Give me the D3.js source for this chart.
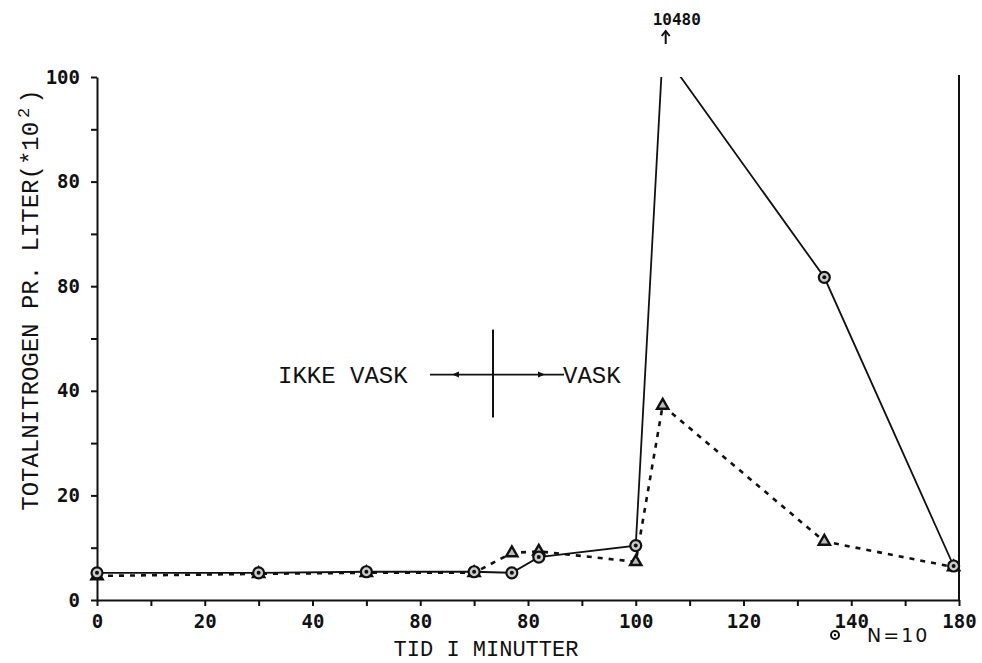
<!DOCTYPE html>
<html>
<head>
<meta charset="utf-8">
<script src="https://cdn.jsdelivr.net/npm/d3@7"></script>
<style>
  body { margin: 0; background: #fff; }
  svg { display: block; }
</style>
</head>
<body>
<script>
// sampling times (minutes)
var times = [0, 30, 50, 70, 77, 82, 100, 105, 135, 159];
// solid line, circle markers
var circleSeries = [5.2, 5.2, 5.4, 5.4, 5.2, 8.2, 10.4, 104.8, 61.7, 6.5];
// dashed line, triangle markers
var triangleSeries = [4.6, 5.0, 5.2, 5.2, 9.0, 9.3, 7.3, 37.2, 11.2, 6.3];

// tick labels as printed on the plot
var xTickValues = [0, 20, 40, 60, 80, 100, 120, 140, 160];
var xTickLabels = ["0", "20", "40", "80", "80", "100", "120", "140", "180"];
var yTickValues = [0, 20, 40, 60, 80, 100];
var yTickLabels = ["0", "20", "40", "80", "80", "100"];

var peakLabel = "10480";

var w = 982, h = 663;
// plot box (note: "top" is a reserved window prop, so use plot*)
var plotLeft = 97, plotRight = 959, plotTop = 77, plotBottom = 600;

var xScale = d3.scaleLinear().domain([0, 160]).range([plotLeft, plotRight]);
var yScale = d3.scaleLinear().domain([0, 100]).range([plotBottom, plotTop]);

var svg = d3.select("body").append("svg")
  .attr("width", w)
  .attr("height", h);

svg.append("defs").append("clipPath")
  .attr("id", "plotClip")
  .append("rect")
  .attr("x", plotLeft - 10)
  .attr("y", plotTop)
  .attr("width", plotRight - plotLeft + 20)
  .attr("height", plotBottom - plotTop + 20);

// axes
var xAxis = svg.append("g")
  .attr("transform", "translate(0," + plotBottom + ")")
  .call(d3.axisBottom(xScale)
    .tickValues(d3.range(0, 161, 10))
    .tickSize(6)
    .tickSizeOuter(0)
    .tickPadding(9)
    .tickFormat(function(d) {
      var i = xTickValues.indexOf(d);
      return i < 0 ? "" : xTickLabels[i];
    }));

var yAxis = svg.append("g")
  .attr("transform", "translate(" + plotLeft + ",0)")
  .call(d3.axisLeft(yScale)
    .tickValues(d3.range(0, 101, 10))
    .tickSize(6)
    .tickSizeOuter(0)
    .tickPadding(11)
    .tickFormat(function(d) {
      var i = yTickValues.indexOf(d);
      return i < 0 ? "" : yTickLabels[i];
    }));

[xAxis, yAxis].forEach(function(a) {
  a.select(".domain").attr("stroke", "#111").attr("stroke-width", 2);
  a.selectAll(".tick line").attr("stroke", "#111").attr("stroke-width", 2);
  a.selectAll(".tick text")
    .attr("fill", "#111")
    .style("font-family", "'DejaVu Sans Mono', monospace")
    .style("font-weight", "bold")
    .style("font-size", "19px");
});

// right frame line
svg.append("line")
  .attr("x1", xScale(160)).attr("x2", xScale(160))
  .attr("y1", yScale(100) - 2).attr("y2", yScale(0))
  .attr("stroke", "#111").attr("stroke-width", 2);

// lines
var data = times.map(function(t, i) {
  return { t: t, c: circleSeries[i], tr: triangleSeries[i] };
});

var lineC = d3.line().x(function(d) { return xScale(d.t); }).y(function(d) { return yScale(d.c); });
var lineT = d3.line().x(function(d) { return xScale(d.t); }).y(function(d) { return yScale(d.tr); });

svg.append("path")
  .datum(data)
  .attr("d", lineT)
  .attr("fill", "none")
  .attr("stroke", "#111")
  .attr("stroke-width", 2.6)
  .attr("stroke-dasharray", "5,6");

svg.append("path")
  .datum(data)
  .attr("d", lineC)
  .attr("clip-path", "url(#plotClip)")
  .attr("fill", "none")
  .attr("stroke", "#111")
  .attr("stroke-width", 1.8);

// triangle markers
svg.selectAll(".tri")
  .data(data)
  .enter()
  .append("path")
  .attr("class", "tri")
  .attr("transform", function(d) { return "translate(" + xScale(d.t) + "," + yScale(d.tr) + ")"; })
  .attr("d", d3.symbol().type(d3.symbolTriangle).size(55))
  .attr("fill", "#bbb")
  .attr("stroke", "#111")
  .attr("stroke-width", 2.4);

// circle markers (clipped peak has none)
var circ = svg.selectAll(".circ")
  .data(data.filter(function(d) { return d.c <= 100; }))
  .enter()
  .append("g")
  .attr("class", "circ")
  .attr("transform", function(d) { return "translate(" + xScale(d.t) + "," + yScale(d.c) + ")"; });
circ.append("circle").attr("r", 5.5).attr("fill", "#ccc").attr("stroke", "#111").attr("stroke-width", 2.2);
circ.append("circle").attr("r", 2).attr("fill", "#111");

// off-scale peak label
var peak = data.filter(function(d) { return d.c > 100; })[0];
svg.append("text")
  .attr("x", xScale(peak.t) - 10)
  .attr("y", 25)
  .text(peakLabel)
  .style("font-family", "'DejaVu Sans Mono', monospace")
  .style("font-weight", "bold")
  .style("font-size", "16px")
  .attr("fill", "#111");
var ax = xScale(peak.t) + 3;
svg.append("line")
  .attr("x1", ax).attr("x2", ax).attr("y1", 31).attr("y2", 44)
  .attr("stroke", "#111").attr("stroke-width", 2);
svg.append("path")
  .attr("d", "M" + (ax - 4) + ",36 L" + ax + ",31 L" + (ax + 4) + ",36")
  .attr("fill", "none").attr("stroke", "#111").attr("stroke-width", 2);

// IKKE VASK / VASK annotation
var split = 73.5;
var annY = yScale(43.1);
var ann = svg.append("g");
ann.append("text")
  .attr("x", 278).attr("y", annY + 8)
  .text("IKKE VASK")
  .style("font-family", "'Liberation Mono', monospace")
  .style("font-size", "24px")
  .attr("fill", "#111");
ann.append("text")
  .attr("x", 563).attr("y", annY + 8)
  .text("VASK")
  .style("font-family", "'Liberation Mono', monospace")
  .style("font-size", "24px")
  .attr("fill", "#111");
ann.append("line")
  .attr("x1", 430).attr("x2", 564)
  .attr("y1", annY).attr("y2", annY)
  .attr("stroke", "#111").attr("stroke-width", 1.6);
ann.append("line")
  .attr("x1", xScale(split)).attr("x2", xScale(split))
  .attr("y1", yScale(51.7)).attr("y2", yScale(34.9))
  .attr("stroke", "#111").attr("stroke-width", 2);
ann.append("path")
  .attr("d", "M452," + annY + " l7,-3 l0,6 z")
  .attr("fill", "#111");
ann.append("path")
  .attr("d", "M545," + annY + " l-7,-3 l0,6 z")
  .attr("fill", "#111");

// axis titles
svg.append("text")
  .attr("x", 486).attr("y", 656)
  .attr("text-anchor", "middle")
  .text("TID I MINUTTER")
  .style("font-family", "'Liberation Mono', monospace")
  .style("font-size", "22px")
  .attr("fill", "#111");

var yt = svg.append("text")
  .attr("transform", "translate(38,300) rotate(-90)")
  .attr("text-anchor", "middle")
  .style("font-family", "'Liberation Mono', monospace")
  .style("font-size", "24px")
  .attr("fill", "#111");
yt.append("tspan").text("TOTALNITROGEN PR. LITER(*10");
yt.append("tspan").attr("dy", -9).attr("dx", 4).style("font-size", "17px").text("2");
yt.append("tspan").attr("dy", 9).attr("dx", 4).text(")");

// legend
var lg = svg.append("g").attr("transform", "translate(835,635)");
lg.append("circle").attr("r", 4).attr("fill", "#fff").attr("stroke", "#111").attr("stroke-width", 2);
lg.append("circle").attr("r", 1.2).attr("fill", "#111");
svg.append("text")
  .attr("x", 867).attr("y", 642)
  .text("N=10")
  .style("font-family", "'DejaVu Sans', sans-serif")
  .style("font-size", "19px")
  .style("letter-spacing", "2px")
  .attr("fill", "#111");
</script>
</body>
</html>
